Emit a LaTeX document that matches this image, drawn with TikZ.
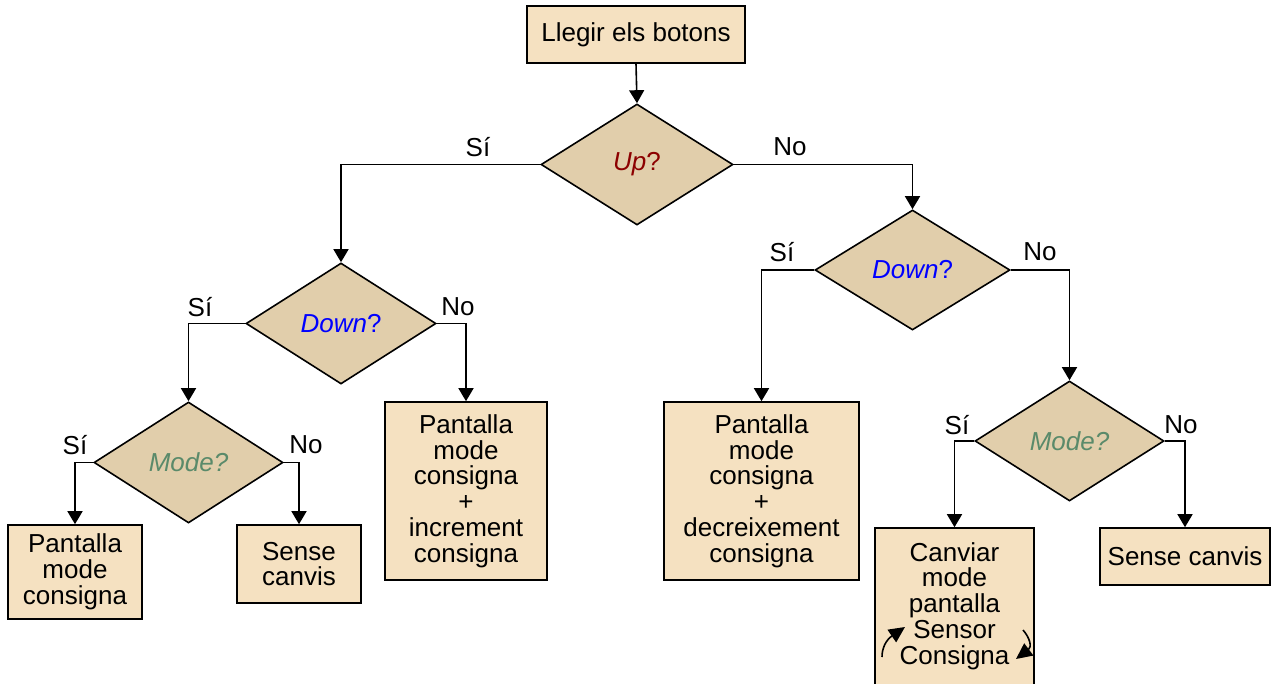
\documentclass[tikz,border=0pt]{standalone}
\usepackage{fontspec}
\setmainfont{Liberation Sans}
\usetikzlibrary{shapes.geometric,arrows.meta}
\definecolor{boxfill}{RGB}{245,225,193}
\definecolor{decfill}{RGB}{225,206,171}
\definecolor{upcol}{RGB}{140,0,0}
\definecolor{downcol}{RGB}{0,0,255}
\definecolor{modecol}{RGB}{90,138,106}
\begin{document}
\begin{tikzpicture}[x=1pt,y=-1pt,
  every node/.style={font=\fontsize{26}{25.8}\selectfont},
  procbox/.style={draw=black,line width=1.6pt,fill=boxfill,align=center,inner sep=0pt,anchor=center},
  decision/.style={draw=black,line width=1.6pt,fill=decfill,diamond,inner sep=0pt,aspect=1.6},
  arr/.style={line width=1.6pt,-{Triangle[length=13pt,width=15pt]}},
  turn/.style={line width=1.6pt,-{Triangle[length=16pt,width=15pt]}},
  lbl/.style={inner sep=0pt}]
\useasboundingbox (0,0) rectangle (1272,684);
\clip (0,0) rectangle (1272,684);
% process boxes
\node[procbox,minimum width=218pt,minimum height=57pt] (read) at (636,34.5) {Llegir els botons};
\node[procbox,minimum width=134pt,minimum height=94pt] (pmc) at (75,572) {Pantalla\\mode\\consigna};
\node[procbox,minimum width=124pt,minimum height=78pt] (sensel) at (299,564) {Sense\\canvis};
\node[procbox,minimum width=162pt,minimum height=178pt] (incr) at (466,491) {Pantalla\\mode\\consigna\\+\\increment\\consigna};
\node[procbox,minimum width=195pt,minimum height=178pt] (decr) at (761.5,491) {Pantalla\\mode\\consigna\\+\\decreixement\\consigna};
% the screen-mode box runs past the lower edge; its text sits on top of it
\node[procbox,minimum width=159pt,minimum height=172pt] (canv) at (954.5,614) {};
\node[lbl,align=center] (canvtxt) at (954.5,606) {Canviar\\mode\\pantalla\\Sensor\\Consigna};
\node[procbox,minimum width=170pt,minimum height=57pt] (senser) at (1185,556.5) {Sense canvis};
% decisions
\node[decision,minimum width=192pt,minimum height=121pt] (up) at (637,164.5) {\color{upcol}\textit{Up}?};
\node[decision,minimum width=190pt,minimum height=121pt] (downl) at (341,323.5) {\color{downcol}\textit{Down}?};
\node[decision,minimum width=195pt,minimum height=120pt] (downr) at (912.5,270) {\color{downcol}\textit{Down}?};
\node[decision,minimum width=189pt,minimum height=121pt] (model) at (188.5,462.5) {\color{modecol}\textit{Mode?}};
\node[decision,minimum width=189pt,minimum height=120pt] (moder) at (1069.5,441) {\color{modecol}\textit{Mode?}};
% connectors
\draw[arr] (read.south) -- (up.north);
\draw[arr] (up.west) -| (downl.north);
\draw[arr] (up.east) -| (downr.north);
\draw[arr] (downl.west) -| (model.north);
\draw[arr] (downl.east) -| (incr.north);
\draw[arr] (model.west) -| (pmc.north);
\draw[arr] (model.east) -| (sensel.north);
\draw[arr] (downr.west) -| (decr.north);
\draw[arr] (downr.east) -| (moder.north);
\draw[arr] (moder.west) -| (canv.north);
\draw[arr] (moder.east) -| (senser.north);
% branch labels
\node[lbl] (s1) at (478,147) {Sí};
\node[lbl] (n1) at (790,147) {No};
\node[lbl] (s2) at (200,307) {Sí};
\node[lbl] (n2) at (458,307) {No};
\node[lbl] (s3) at (75,445) {Sí};
\node[lbl] (n3) at (306,445) {No};
\node[lbl] (s4) at (782,252) {Sí};
\node[lbl] (n4) at (1040,252) {No};
\node[lbl] (s5) at (957,425) {Sí};
\node[lbl] (n5) at (1181,425) {No};
% rotation arrows inside the screen-mode box
\coordinate (la) at (882,657);
\coordinate (lb) at (905,627);
\coordinate (ra) at (1023,630);
\coordinate (rb) at (1016,659);
\draw[turn] (la) .. controls (882,648) and (886,640) .. (lb);
\draw[turn] (ra) .. controls (1030,638) and (1032,647) .. (rb);
\end{tikzpicture}
\end{document}
